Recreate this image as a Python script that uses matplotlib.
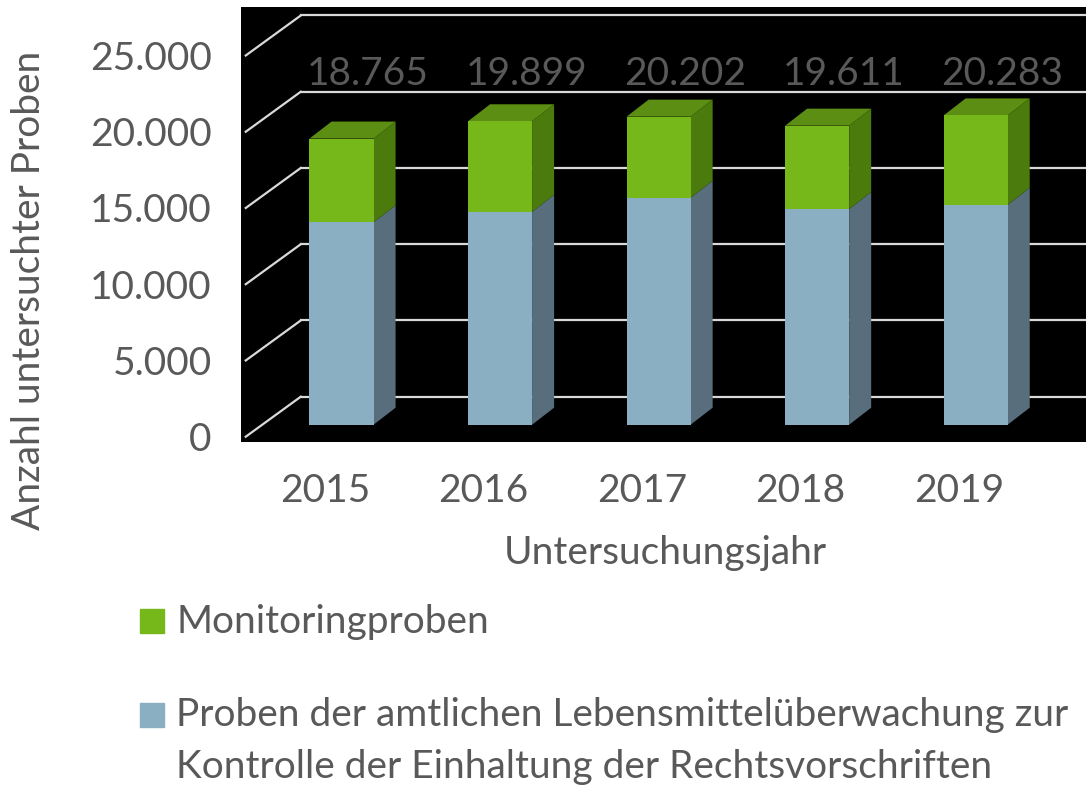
import matplotlib
matplotlib.use("Agg")
import matplotlib.pyplot as plt
import numpy as np
from matplotlib.patches import Polygon, Rectangle

plt.rcParams["font.family"] = ["Lato", "DejaVu Sans"]

YEARS = ["2015", "2016", "2017", "2018", "2019"]
TOTALS = np.array([18765, 19899, 20202, 19611, 20283])
AMTLICH = np.array([13270, 13960, 14880, 14140, 14420])
MONITORING = TOTALS - AMTLICH
YTICKS = [0, 5000, 10000, 15000, 20000, 25000]

GREEN, GREEN_TOP, GREEN_SIDE = "#76B71A", "#5B8E12", "#4B7A0D"
BLUE, BLUE_SIDE = "#8AAEC2", "#596E7D"
GRID = "#D9D9D9"
TXT = "#595959"
FS = 28

# fake 3d: offsets of bar front, bar depth and back wall in data units
FRONT_DX, FRONT_DY = 0.104, 787
BAR_DX, BAR_DY = 0.139, 1115
WALL_DX, WALL_DY = 0.347, 2623
WIDTH = 0.404


def fmt(v):
    return f"{v:,}".replace(",", ".")


fig = plt.figure(figsize=(10.86, 7.87), dpi=100)
ax = fig.add_axes([241 / 1086, 1 - 441.5 / 787, 1 - 241 / 1086, 434.5 / 787])
ax.set_facecolor("black")
ax.set_xlim(-0.53, 4.80)
ax.set_ylim(-315, 28180)
for s in ax.spines.values():
    s.set_visible(False)

# gridlines: diagonal on the side wall + horizontal on the back wall
x0 = -0.5
for v in YTICKS:
    ax.plot([x0, x0 + WALL_DX], [v, v + WALL_DY], color=GRID, lw=1.6, zorder=1)
    ax.plot([x0 + WALL_DX, 4.80], [v + WALL_DY, v + WALL_DY], color=GRID, lw=1.6, zorder=1)

x = np.arange(len(YEARS))
xb = x + FRONT_DX
ax.bar(xb, AMTLICH, WIDTH, bottom=FRONT_DY, color=BLUE, zorder=3)
ax.bar(xb, MONITORING, WIDTH, bottom=FRONT_DY + AMTLICH, color=GREEN, zorder=3)

for i in range(len(YEARS)):
    xl = xb[i] - WIDTH / 2
    xr = xb[i] + WIDTH / 2
    y0 = FRONT_DY
    ys = FRONT_DY + AMTLICH[i]
    yt = FRONT_DY + TOTALS[i]
    side_b = [(xr, y0), (xr + BAR_DX, y0 + BAR_DY), (xr + BAR_DX, ys + BAR_DY), (xr, ys)]
    side_g = [(xr, ys), (xr + BAR_DX, ys + BAR_DY), (xr + BAR_DX, yt + BAR_DY), (xr, yt)]
    top = [(xl, yt), (xl + BAR_DX, yt + BAR_DY), (xr + BAR_DX, yt + BAR_DY), (xr, yt)]
    ax.add_patch(Polygon(side_b, closed=True, color=BLUE_SIDE, lw=0, zorder=2))
    ax.add_patch(Polygon(side_g, closed=True, color=GREEN_SIDE, lw=0, zorder=2))
    ax.add_patch(Polygon(top, closed=True, color=GREEN_TOP, lw=0, zorder=2))
    ax.text(x[i] + 0.27, 23800, fmt(TOTALS[i]), ha="center", va="center",
            fontsize=FS, color=TXT, zorder=4)

ax.set_yticks(YTICKS)
ax.set_yticklabels([fmt(v) for v in YTICKS])
ax.set_xticks(x)
ax.set_xticklabels(YEARS)
ax.tick_params(axis="both", length=0, labelsize=FS, labelcolor=TXT)
ax.tick_params(axis="y", pad=21)
ax.tick_params(axis="x", pad=23)

fig.text(29 / 1086, 1 - 290 / 787, "Anzahl untersuchter Proben", rotation=90,
         ha="center", va="center", fontsize=FS, color=TXT)
fig.text(665 / 1086, 1 - 553 / 787, "Untersuchungsjahr", ha="center", va="center",
         fontsize=FS, color=TXT)

# legend
fig.patches.append(Rectangle((140 / 1086, 1 - 633 / 787), 24 / 1086, 24 / 787,
                             transform=fig.transFigure, color=GREEN))
fig.text(176 / 1086, 1 - 633 / 787, "Monitoringproben", ha="left", va="baseline",
         fontsize=FS, color=TXT)
fig.patches.append(Rectangle((140 / 1086, 1 - 727 / 787), 24 / 1086, 24 / 787,
                             transform=fig.transFigure, color=BLUE))
fig.text(176 / 1086, 1 - 726 / 787, "Proben der amtlichen Lebensmittelüberwachung zur",
         ha="left", va="baseline", fontsize=FS, color=TXT)
fig.text(176 / 1086, 1 - 778 / 787, "Kontrolle der Einhaltung der Rechtsvorschriften",
         ha="left", va="baseline", fontsize=FS, color=TXT)

fig.savefig("out.png", dpi=100)
